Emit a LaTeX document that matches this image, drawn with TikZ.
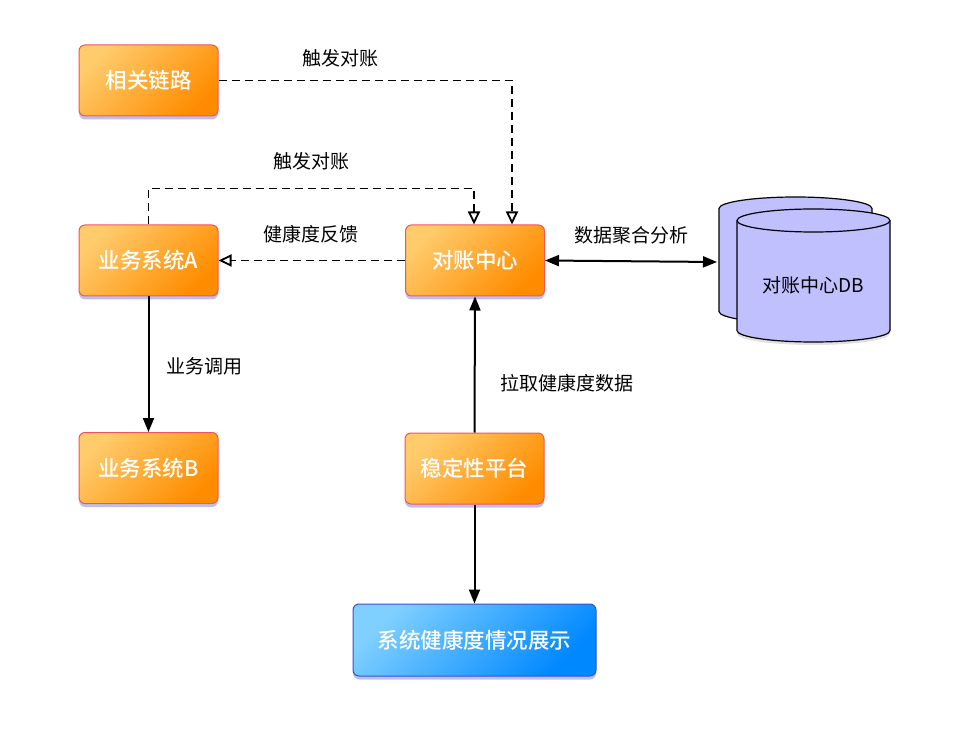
\documentclass[tikz,border=0pt]{standalone}
\usepackage{fontspec}
\setmainfont{Noto Sans CJK SC}
\newfontfamily\boxfont{Noto Sans CJK SC Medium}
\usetikzlibrary{arrows.meta,shadows}
\definecolor{orL}{HTML}{FFCB6B}
\definecolor{orD}{HTML}{FF8C00}
\definecolor{orB}{HTML}{F0555A}
\definecolor{blL}{HTML}{80D0FF}
\definecolor{blD}{HTML}{0088FF}
\definecolor{blB}{HTML}{3A50D0}
\definecolor{dbF}{HTML}{C0C0FF}
\definecolor{shd}{HTML}{6060D8}

\begin{document}
\begin{tikzpicture}[x=1pt,y=-1pt,
  box/.style={rounded corners=6pt,draw=orB,line width=1pt,top color=orL,bottom color=orD,shading angle=45,
    minimum width=139pt,minimum height=71pt,text=white,font=\fontsize{21.5}{24}\boxfont,
    drop shadow={shadow xshift=0pt,shadow yshift=-3.5pt,fill=shd,opacity=.4}},
  bluebox/.style={box,draw=blB,top color=blL,bottom color=blD,shading angle=45,minimum width=243pt,minimum height=72pt},
  lab/.style={font=\fontsize{19}{22}\selectfont},
  arr/.style={-{Triangle[length=14pt,width=11pt]},line width=2pt},
  dsh/.style={-{Triangle[open,length=13pt,width=12pt]},line width=1.8pt,dash pattern=on 8pt off 5pt}]
\useasboundingbox (0,0) rectangle (962,730);
\node[box] (xg) at (148.5,80.5) {相关链路};
\node[box] (ywa) at (148.5,260.5) {业务系统A};
\node[box] (dz) at (475,260.5) {对账中心};
\node[box] (ywb) at (148.5,468) {业务系统B};
\node[box] (wd) at (474.5,468.5) {稳定性平台};
\node[bluebox] (zs) at (474.5,640) {系统健康度情况展示};
% database
\filldraw[fill=dbF,line width=1.2pt] (719,208.5) -- (719,311.5) arc[start angle=180,end angle=360,x radius=76.5pt,y radius=11.5pt]
  -- (872,208.5) arc[start angle=0,end angle=180,x radius=76.5pt,y radius=11.5pt] -- cycle;
\filldraw[fill=dbF,line width=1.2pt,drop shadow={shadow xshift=0pt,shadow yshift=-3pt,opacity=.25}] (737,220.5) -- (737,330.5) arc[start angle=180,end angle=360,x radius=76.5pt,y radius=11.5pt]
  -- (890,220.5) arc[start angle=0,end angle=180,x radius=76.5pt,y radius=11.5pt] -- cycle;
\draw[line width=1.2pt] (737,220.5) arc[start angle=180,end angle=360,x radius=76.5pt,y radius=11.5pt];
\node[lab] (db) at (813,285) {对账中心DB};
\coordinate (dbL) at (717,262);
% connectors
\draw[dsh] (xg.east) -| ([xshift=37pt]dz.north);
\draw[dsh] (ywa.north) -- ++(0,-36) -| ([xshift=-1pt]dz.north);
\draw[dsh] (dz.west) -- (ywa.east);
\draw[arr] (ywa.south) -- (ywb.north);
\draw[arr] (wd.north) -- (dz.south);
\draw[arr] (wd.south) -- (zs.north);
\draw[arr,{Triangle[length=14pt,width=11pt]}-{Triangle[length=14pt,width=11pt]}] (dz.east) -- (dbL);
% labels
\node[lab] (l1) at (340.5,58) {触发对账};
\node[lab] (l2) at (311.5,161) {触发对账};
\node[lab] (l3) at (311,234) {健康度反馈};
\node[lab] (l4) at (631.5,235) {数据聚合分析};
\node[lab] (l5) at (204,366.5) {业务调用};
\node[lab] (l6) at (567,383) {拉取健康度数据};
\end{tikzpicture}
\end{document}
